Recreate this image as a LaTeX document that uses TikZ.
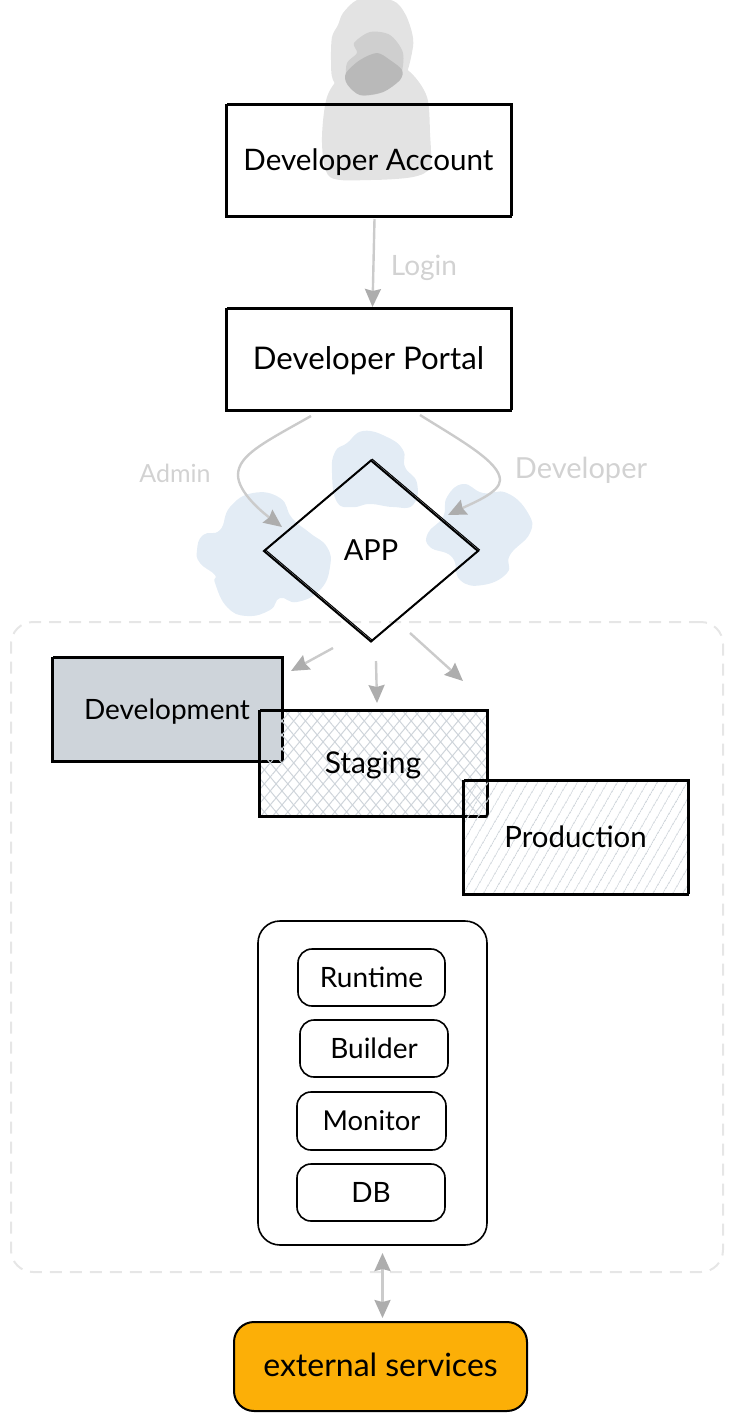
\documentclass[tikz,border=0pt]{standalone}
\usepackage{fontspec}
\setmainfont{Lato}
\usetikzlibrary{arrows.meta, positioning, shapes.geometric, patterns.meta}

\definecolor{hatchgray}{HTML}{CED4DA}
\definecolor{linkgray}{HTML}{CBCBCB}
\definecolor{tipgray}{HTML}{ADADAD}
\definecolor{labelgray}{HTML}{D2D2D2}
\definecolor{cloudblue}{HTML}{E3ECF5}
\definecolor{frameline}{HTML}{E6E6E6}
\definecolor{extorange}{HTML}{FCAF07}

\tikzset{
	sketch/.style={postaction={draw,line width=0.5pt,transform canvas={xshift=0.7pt,yshift=0.6pt}}},
	box/.style={draw=black,line width=1pt,inner sep=0pt,outer sep=0pt,text height=12.5pt,text depth=3pt,sketch},
	roundbox/.style={draw=black,line width=0.8pt,rounded corners=#1,inner sep=0pt,outer sep=0pt,text height=12.5pt,text depth=3pt},
	roundbox/.default=7pt,
	link/.style={draw=linkgray,line width=1.2pt,>={Stealth[inset=1pt,length=9pt,width=8pt,color=tipgray,fill=tipgray]}},
	textsize/.style={font=\fontsize{#1}{#1}\selectfont},
	graylabel/.style={text=labelgray,textsize=#1},
	cloud/.style={fill=cloudblue},
}

\begin{document}
\begin{tikzpicture}[x=0.5pt,y=-0.5pt] % 1 unit = 1 px of the sketch
	\useasboundingbox (0,0) rectangle (733,1421);

	% person
	\fill[gray!22] plot[smooth cycle] coordinates {(357,0) (343,13) (338,25) (332,37) (331,60) (333,80) (347,92) (397,90) (413,47) (408,20) (397,3) (380,-2)};
	\fill[gray!22] plot[smooth cycle] coordinates {(322,143) (327,97) (345,72) (377,53) (410,72) (427,97) (430,133) (430,167) (413,177) (370,180) (330,177)};
	\fill[gray!38] plot[smooth cycle] coordinates {(354,43) (370,32) (390,35) (403,53) (400,77) (383,92) (360,95) (347,80) (347,63) (357,53)};
	\fill[gray!55] plot[smooth cycle] coordinates {(346,73) (360,60) (377,53) (390,60) (402,70) (400,80) (383,92) (360,95) (347,84)};

	% clouds
	\fill[cloud] plot[smooth cycle,tension=0.8] coordinates {(220,530) (230,507) (253,493) (280,498) (292,518) (310,533) (327,547) (330,567) (320,590) (297,602) (280,598) (270,610) (247,616) (227,607) (215,583) (215,575) (200,563) (197,550) (203,535)};
	\fill[cloud] plot[smooth cycle,tension=0.8] coordinates {(347,443) (363,431) (387,437) (403,450) (405,467) (417,483) (413,505) (393,507) (370,504) (353,507) (337,502) (332,473) (335,452)};
	\fill[cloud] plot[smooth cycle,tension=0.8] coordinates {(447,497) (463,484) (483,493) (507,493) (528,513) (530,533) (510,555) (507,573) (483,585) (460,580) (452,557) (430,547) (428,533) (443,517)};

	\node (frame) at (367,947) [draw=frameline,line width=1pt,dash pattern=on 6pt off 4pt,rounded corners=11pt,minimum width=356pt,minimum height=325pt] {};

	\node (account) at (368.5,161) [box,textsize=14.8,minimum width=142.5pt,minimum height=56pt] {Developer Account};
	\node (portal) at (368.5,360) [box,textsize=15.6,minimum width=142.5pt,minimum height=51pt] {Developer Portal};
	\node (app) at (371,551) [diamond,aspect=1.18,box,textsize=14.5,minimum width=107pt,minimum height=90.5pt] {APP};

	\node (development) at (167,710) [box,textsize=14,fill=hatchgray,minimum width=115pt,minimum height=52pt] {Development};
	\node (staging) at (373,764) [box,textsize=15,preaction={pattern={Lines[angle=50,distance=4.5pt,line width=0.5pt]},pattern color=hatchgray},pattern={Lines[angle=-50,distance=4.5pt,line width=0.5pt]},pattern color=hatchgray,minimum width=114pt,minimum height=53pt] {Staging};
	\node (production) at (575.5,838) [box,textsize=14.7,pattern={Lines[angle=60,distance=4pt,line width=0.5pt]},pattern color=hatchgray,minimum width=112.5pt,minimum height=57pt] {Production};

	\node (platform) at (372.5,1083) [roundbox=11pt,minimum width=114.5pt,minimum height=162pt] {};
	\node (runtime) at (371.5,977.5) [roundbox,textsize=14,minimum width=73.5pt,minimum height=28.5pt] {Runtime};
	\node (builder) at (374,1048.5) [roundbox,textsize=14,minimum width=74pt,minimum height=28.5pt] {Builder};
	\node (monitor) at (371.5,1121) [roundbox,textsize=13.7,minimum width=74.5pt,minimum height=29pt] {Monitor};
	\node (db) at (371,1192.5) [roundbox,textsize=14,minimum width=74pt,minimum height=28.5pt] {DB};

	\node (external) at (380.5,1366.5) [roundbox=10pt,textsize=16,line width=1pt,fill=extorange,minimum width=146.5pt,minimum height=44.5pt] {external services};

	\node (login) at (424,268) [graylabel=14] {Login};
	\node (admin) at (175,473) [graylabel=12.5] {Admin};
	\node (developer) at (581,470) [graylabel=14.5] {Developer};

	\coordinate (adminout) at (311,416);
	\coordinate (adminin) at (282,527);
	\coordinate (devout) at (420,415);
	\coordinate (devin) at (448,515);
	\coordinate (toleft) at (333,648);
	\coordinate (leftend) at (291,671);
	\coordinate (tomid) at (376,661);
	\coordinate (toright) at (410,633);
	\coordinate (rightend) at (463,681);

	\draw[link,->] ([xshift=3pt,yshift=-1pt]account.south) -- ([xshift=2pt,yshift=1pt]portal.north);
	\draw[link,->] (adminout) .. controls (265,442) and (238,455) .. (238,475) .. controls (238,492) and (262,512) .. (adminin);
	\draw[link,->] (devout) .. controls (460,440) and (500,462) .. (500,480) .. controls (500,492) and (475,502) .. (devin);
	\draw[link,->] (toleft) -- (leftend);
	\draw[link,->] (tomid) -- ([xshift=2pt,yshift=4pt]staging.north);
	\draw[link,->] (toright) -- (rightend);
	\draw[link,<->] ([xshift=5pt,yshift=-4pt]platform.south) -- ([xshift=1pt,yshift=2pt]external.north);
\end{tikzpicture}
\end{document}
